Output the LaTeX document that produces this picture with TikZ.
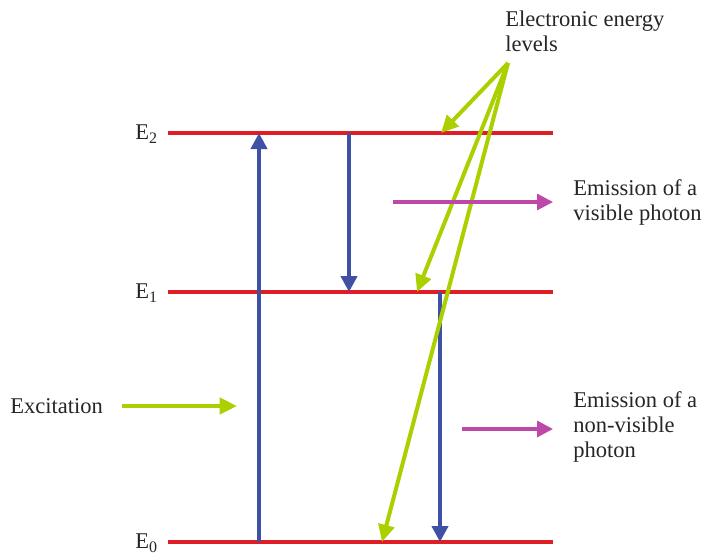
\documentclass[tikz,border=0pt]{standalone}
\usepackage{fontspec}
\setmainfont{Liberation Serif}
\usetikzlibrary{arrows.meta}
\definecolor{lvlred}{RGB}{222,30,36}
\definecolor{trblue}{RGB}{63,81,165}
\definecolor{lime}{RGB}{170,208,0}
\definecolor{magen}{RGB}{190,72,170}
\newcommand{\sublbl}[1]{\raisebox{-3pt}{\fontsize{12}{12}\selectfont #1}}
\tikzset{
  level/.style={draw=lvlred, line width=3pt},
  trans/.style={draw=trblue, line width=3pt, -{Triangle[length=12pt,width=12pt]}},
  pointer/.style={draw=lime, line width=3pt, -{Triangle[length=13pt,width=12pt]}},
  photon/.style={draw=magen, line width=2.4pt, -{Triangle[length=12pt,width=12pt]}},
  txt/.style={inner sep=0pt, font=\fontsize{16.9}{18.75}\selectfont, text=black!85},
}
\begin{document}
\begin{tikzpicture}[x=0.75pt,y=-0.75pt]
\useasboundingbox (0,0) rectangle (705,554);
% level endpoints
\coordinate (E2l) at (168,133); \coordinate (E2r) at (553,133);
\coordinate (E1l) at (168,292); \coordinate (E1r) at (553,292);
\coordinate (E0l) at (168,542); \coordinate (E0r) at (553,542);
\draw[level] (E2l) -- (E2r);
\draw[level] (E1l) -- (E1r);
\draw[level] (E0l) -- (E0r);
% labels
\node[txt, anchor=base west] (lE2) at (135,139) {E\sublbl{2}};
\node[txt, anchor=base west] (lE1) at (135,298) {E\sublbl{1}};
\node[txt, anchor=base west] (lE0) at (135,548) {E\sublbl{0}};
% transitions
\coordinate (a1s) at (259,542); \coordinate (a1e) at (259,133);
\coordinate (a2s) at (349,133); \coordinate (a2e) at (349,292);
\coordinate (a3s) at (440,292); \coordinate (a3e) at (440,542);
\draw[trans] (a1s) -- (a1e);
\draw[trans] (a2s) -- (a2e);
\draw[trans] (a3s) -- (a3e);
% electronic energy levels pointers
\node[txt, anchor=north west, align=left] (eel) at (505,10.5) {Electronic energy\\levels};
\coordinate (g0) at (508,63);
\coordinate (g2) at (441,133);
\coordinate (g1) at (417,292);
\coordinate (g00) at (382,542);
\draw[pointer] (g0) -- (g2);
\draw[pointer] (g0) -- (g1);
\draw[pointer] (g0) -- (g00);
% excitation
\node[txt, anchor=base west] (exc) at (10,413) {Excitation};
\coordinate (ex1) at (122,406); \coordinate (ex2) at (237,406);
\draw[pointer] (ex1) -- (ex2);
% visible photon
\coordinate (v1) at (393,202); \coordinate (v2) at (553,202);
\draw[photon] (v1) -- (v2);
\node[txt, anchor=north west, align=left] (vis) at (573,179.5) {Emission of a\\visible photon};
% non-visible photon
\coordinate (n1) at (462,429); \coordinate (n2) at (553,429);
\draw[photon] (n1) -- (n2);
\node[txt, anchor=north west, align=left] (nvis) at (573,391.5) {Emission of a\\non-visible\\photon};
\end{tikzpicture}
\end{document}
